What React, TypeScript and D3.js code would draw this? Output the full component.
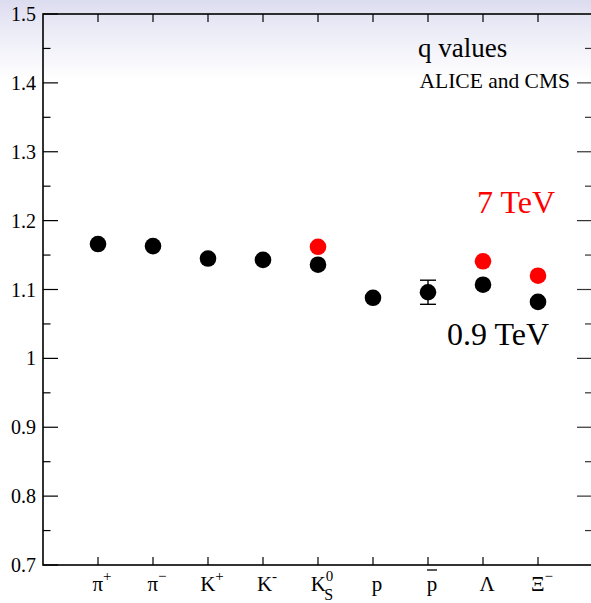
import React from "react";
import * as d3 from "d3";

// Particle species along the x axis
const species = ["π+", "π-", "K+", "K-", "K0s", "p", "pbar", "Λ", "Ξ-"];
const speciesBase = ["π", "π", "K", "K", "K", "p", "p", "Λ", "Ξ"];
const speciesSup = ["+", "−", "+", "-", "0", "", "", "", "−"];
const speciesSub = ["", "", "", "", "S", "", "", "", ""];
const speciesBar = [false, false, false, false, false, false, true, false, false];

// Tsallis q values at 0.9 TeV (all species)
const q09 = [1.166, 1.163, 1.145, 1.143, 1.136, 1.088, 1.096, 1.107, 1.082];
const q09Err = [0, 0, 0, 0, 0, 0, 0.0175, 0, 0];

// Tsallis q values at 7 TeV (strange hadrons only)
const q7Species = ["K0s", "Λ", "Ξ-"];
const q7 = [1.162, 1.141, 1.12];

const yMajorTicks = [0.7, 0.8, 0.9, 1.0, 1.1, 1.2, 1.3, 1.4, 1.5];
const yTickLabels = ["0.7", "0.8", "0.9", "1", "1.1", "1.2", "1.3", "1.4", "1.5"];
const yMinorTicks = [0.75, 0.85, 0.95, 1.05, 1.15, 1.25, 1.35, 1.45];

const W = 591;
const H = 603;
const left = 43;
const right = 593;
const top = 14;
const bottom = 565;
const serif = "'Liberation Serif', 'DejaVu Serif', serif";

export default function App() {
  const x = d3.scaleLinear().domain([0, species.length + 1]).range([left, right]);
  const y = d3.scaleLinear().domain([0.7, 1.5]).range([bottom, top]);
  const xi = (name: string) => x(species.indexOf(name) + 1);
  const txt = { fontFamily: serif };

  return (
    <svg
      width={W}
      height={H}
      style={{ position: "absolute", left: 0, top: 0, display: "block", fontFamily: serif }}
    >
      <defs>
        <linearGradient id="bgfade" x1="0" y1="0" x2="0" y2="80" gradientUnits="userSpaceOnUse">
          <stop offset="0" stopColor="#dcdcf0" />
          <stop offset="0.4" stopColor="#ececf7" />
          <stop offset="1" stopColor="#ffffff" />
        </linearGradient>
      </defs>
      <rect x={0} y={0} width={W} height={H} fill="#ffffff" />
      <rect x={0} y={0} width={W} height={80} fill="url(#bgfade)" />

      {/* frame */}
      <rect
        x={left}
        y={top}
        width={right - left}
        height={bottom - top}
        fill="none"
        stroke="#000"
        strokeWidth={1.6}
      />

      {/* y ticks, left and right */}
      {yMajorTicks.map((v, i) => (
        <g key={"ym" + i}>
          <line x1={left} x2={left + 15} y1={y(v)} y2={y(v)} stroke="#000" strokeWidth={1.2} />
          <line x1={right} x2={right - 16} y1={y(v)} y2={y(v)} stroke="#333" strokeWidth={1.2} />
          <text
            x={36}
            y={y(v)}
            textAnchor="end"
            dominantBaseline="central"
            fontSize={20}
            fill="#000"
            style={txt}
          >
            {yTickLabels[i]}
          </text>
        </g>
      ))}
      {yMinorTicks.map((v, i) => (
        <g key={"yn" + i}>
          <line x1={left} x2={left + 7.5} y1={y(v)} y2={y(v)} stroke="#000" strokeWidth={1.2} />
          <line x1={right} x2={right - 8} y1={y(v)} y2={y(v)} stroke="#333" strokeWidth={1.2} />
        </g>
      ))}

      {/* x ticks, bottom and top */}
      {species.map((s, i) => (
        <g key={"xt" + s}>
          <line x1={x(i + 1)} x2={x(i + 1)} y1={bottom} y2={bottom - 8} stroke="#000" strokeWidth={1.2} />
          <line x1={x(i + 1)} x2={x(i + 1)} y1={top} y2={top + 8} stroke="#000" strokeWidth={1.2} />
        </g>
      ))}

      {/* x labels */}
      {species.map((s, i) => {
        const cx = x(i + 1) + 4;
        return (
          <g key={"xl" + s}>
            <text x={cx} y={591} textAnchor="middle" fontSize={21} fill="#000" style={txt}>
              <tspan>{speciesBase[i]}</tspan>
              {speciesSup[i] && (
                <tspan fontSize={15} dy={-10}>
                  {speciesSup[i]}
                </tspan>
              )}
              {speciesSub[i] && (
                <tspan fontSize={16} dx={-9} dy={19}>
                  {speciesSub[i]}
                </tspan>
              )}
            </text>
            {speciesBar[i] && (
              <line x1={cx - 5} x2={cx + 5} y1={570} y2={570} stroke="#000" strokeWidth={1.3} />
            )}
          </g>
        );
      })}

      {/* 0.9 TeV points */}
      {species.map((s, i) => (
        <g key={"p09" + s}>
          {q09Err[i] > 0 && (
            <g stroke="#000" strokeWidth={1.4}>
              <line x1={xi(s)} x2={xi(s)} y1={y(q09[i] + q09Err[i])} y2={y(q09[i] - q09Err[i])} />
              <line x1={xi(s) - 8} x2={xi(s) + 8} y1={y(q09[i] + q09Err[i])} y2={y(q09[i] + q09Err[i])} />
              <line x1={xi(s) - 8} x2={xi(s) + 8} y1={y(q09[i] - q09Err[i])} y2={y(q09[i] - q09Err[i])} />
            </g>
          )}
          <circle cx={xi(s)} cy={y(q09[i])} r={8.3} fill="#000" />
        </g>
      ))}

      {/* 7 TeV points */}
      {q7Species.map((s, i) => (
        <circle key={"p7" + s} cx={xi(s)} cy={y(q7[i])} r={8.3} fill="#ff0000" />
      ))}

      {/* annotations */}
      <text x={418} y={57} fontSize={27} fill="#000" style={txt}>
        q values
      </text>
      <text x={570} y={88} fontSize={21.5} textAnchor="end" fill="#000" style={txt}>
        ALICE and CMS
      </text>
      <text x={555} y={213} fontSize={32} textAnchor="end" fill="#ff0000" style={txt}>
        7 TeV
      </text>
      <text x={549} y={345} fontSize={32} textAnchor="end" fill="#000" style={txt}>
        0.9 TeV
      </text>
    </svg>
  );
}
